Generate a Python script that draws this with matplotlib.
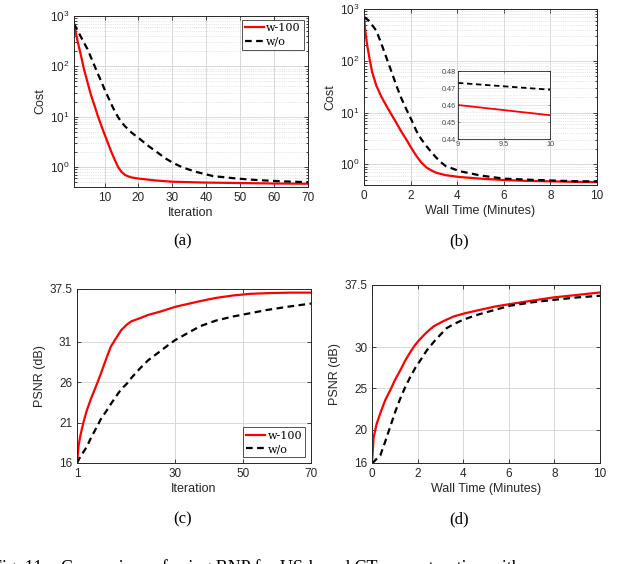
import numpy as np
import matplotlib
matplotlib.use("Agg")
import matplotlib.pyplot as plt
from matplotlib.ticker import LogLocator, NullFormatter, FixedLocator

plt.rcParams['font.family'] = ['Liberation Sans', 'DejaVu Sans']
plt.rcParams['mathtext.fontset'] = 'custom'
plt.rcParams['mathtext.rm'] = 'Liberation Sans'
plt.rcParams['mathtext.it'] = 'Liberation Sans:italic'

# ---- data (a): cost vs iteration ----
iter_a_red = [1, 2, 3, 4, 5, 6, 7, 8, 9, 10, 11, 12, 13, 14, 15, 16, 17, 18, 20, 25, 30, 40, 50, 60, 70]
cost_a_red = [700, 330, 170, 85, 48, 27, 17, 10.5, 6.8, 4.5, 3.0, 2.0, 1.4, 1.0, 0.8, 0.7, 0.65, 0.62, 0.59, 0.54, 0.51, 0.49, 0.48, 0.47, 0.465]
iter_a_blk = [1, 2, 3, 4, 5, 6, 7, 8, 9, 10, 11, 12, 13, 14, 15, 16, 18, 20, 23, 26, 28, 30, 33, 37, 42, 49, 55, 62, 70]
cost_a_blk = [700, 525, 390, 290, 219, 151, 105, 72, 51, 35, 25, 17.8, 12.9, 9.8, 7.8, 6.5, 4.8, 3.8, 2.6, 1.86, 1.48, 1.23, 0.98, 0.8, 0.66, 0.59, 0.55, 0.52, 0.5]

# ---- data (b): cost vs wall time ----
t_b_red = [0, 0.05, 0.12, 0.24, 0.35, 0.53, 0.75, 0.96, 1.2, 1.39, 1.6, 1.82, 2.05, 2.25, 2.45, 2.68, 2.9, 3.1, 3.5, 4.1, 5, 6, 7, 8, 9, 10]
cost_b_red = [700, 400, 220, 107, 60, 33, 20, 13.5, 8.8, 6.3, 4.3, 3.0, 2.0, 1.45, 1.1, 0.87, 0.76, 0.69, 0.62, 0.57, 0.53, 0.5, 0.48, 0.47, 0.46, 0.454]
t_b_blk = [0, 0.2, 0.53, 0.75, 0.96, 1.2, 1.39, 1.6, 1.82, 2.05, 2.25, 2.45, 2.68, 2.9, 3.1, 3.3, 3.5, 4.1, 5, 6, 7.4, 9, 10]
cost_b_blk = [700, 600, 380, 210, 115, 58, 33, 19, 11.5, 7, 4.4, 3.1, 2.25, 1.7, 1.35, 1.1, 0.93, 0.74, 0.61, 0.53, 0.5, 0.473, 0.469]

# ---- data (c): PSNR vs iteration ----
iter_c_red = [1, 1.5, 2, 3, 3.9, 5, 6.9, 8, 9.8, 11, 12.8, 14, 15.7, 17, 19.6, 22, 25.5, 30, 37.3, 42, 47, 52, 58, 64, 70]
psnr_c_red = [16, 18.2, 19.4, 21.2, 22.5, 23.8, 25.8, 27.0, 29.1, 30.4, 31.6, 32.4, 33.1, 33.5, 33.9, 34.3, 34.7, 35.3, 36.0, 36.4, 36.7, 36.9, 37.0, 37.05, 37.05]
iter_c_blk = [1, 2, 3.9, 5, 6.9, 8, 9.8, 11, 12.8, 14, 15.7, 17, 19.6, 22, 25.5, 28, 30, 33, 37.3, 42, 47, 52, 56.9, 63, 70]
psnr_c_blk = [16, 16.8, 18.0, 19.0, 20.5, 21.4, 22.5, 23.3, 24.4, 25.1, 25.8, 26.5, 27.7, 28.7, 29.8, 30.6, 31.2, 31.9, 32.9, 33.6, 34.1, 34.5, 34.9, 35.3, 35.7]

# ---- data (d): PSNR vs wall time ----
t_d_red = [0, 0.07, 0.2, 0.36, 0.58, 0.8, 1.02, 1.24, 1.46, 1.68, 1.9, 2.12, 2.4, 2.7, 3.1, 3.58, 4.1, 4.74, 5.4, 6.06, 7, 7.96, 9, 10]
psnr_d_red = [16, 19.1, 20.7, 22.0, 23.6, 24.8, 26.1, 27.2, 28.4, 29.4, 30.3, 31.0, 31.8, 32.5, 33.1, 33.7, 34.1, 34.5, 34.9, 35.2, 35.6, 36.0, 36.3, 36.6]
t_d_blk = [0, 0.1, 0.2, 0.36, 0.58, 0.8, 1.02, 1.24, 1.46, 1.68, 1.9, 2.12, 2.4, 2.7, 3.0, 3.28, 3.6, 4.0, 4.5, 5.0, 6.06, 7, 7.96, 9, 10]
psnr_d_blk = [16, 16.2, 16.5, 16.9, 18.6, 20.4, 22.2, 23.8, 25.2, 26.4, 27.5, 28.4, 29.6, 30.6, 31.5, 32.3, 32.8, 33.3, 33.8, 34.2, 35.0, 35.4, 35.7, 36.0, 36.2]

# ---- inset (b) ----
t_in = [9, 10]
in_red = [0.460, 0.454]
in_blk = [0.473, 0.469]

labels = ['w-100', 'w/o']

RED = '#ff0000'
GRID = '#d9d9d9'
TICK_FS = 8.5
LAB_FS = 9
LEG_FS = 8

fig = plt.figure(figsize=(6.4, 5.64), dpi=100)


def style(ax):
    ax.tick_params(direction='in', which='both', top=True, right=True,
                   labelsize=TICK_FS, colors='#262626', length=3, width=0.6)
    ax.tick_params(which='minor', length=1.8)
    for s in ax.spines.values():
        s.set_linewidth(0.7)
        s.set_color('#262626')
    ax.set_axisbelow(True)


def log_axis(ax):
    ax.set_yscale('log')
    ax.set_ylim(0.4, 1000)
    ax.yaxis.set_major_locator(FixedLocator([1, 10, 100, 1000]))
    ax.set_yticklabels([r'$10^0$', r'$10^1$', r'$10^2$', r'$10^3$'])
    ax.yaxis.set_minor_locator(LogLocator(base=10, subs=np.arange(2, 10), numticks=20))
    ax.yaxis.set_minor_formatter(NullFormatter())
    ax.grid(True, which='major', color=GRID, lw=0.7, ls='-')
    ax.grid(True, which='minor', axis='y', color='#cfcfcf', lw=0.5, ls=':')


serif = {'family': 'DejaVu Serif', 'size': LEG_FS}
leg_kw = dict(prop=serif, frameon=True, fancybox=False, edgecolor='#262626',
              borderpad=0.3, handlelength=1.7, handletextpad=0.2, labelspacing=0.3)

# (a)
axa = fig.add_axes([0.1156, 0.6684, 0.3656, 0.3032])
axa.plot(iter_a_red, cost_a_red, color=RED, lw=1.6, label=labels[0])
axa.plot(iter_a_blk, cost_a_blk, color='black', lw=1.6, ls=(0, (3, 2)), label=labels[1])
log_axis(axa)
axa.set_xlim(1, 70)
axa.set_xticks([10, 20, 30, 40, 50, 60, 70])
axa.set_xlabel('Iteration', fontsize=LAB_FS, color='#262626', labelpad=2)
axa.set_ylabel('Cost', fontsize=LAB_FS, color='#262626', labelpad=2)
style(axa)
lg = axa.legend(loc='upper right', borderaxespad=0.35, **leg_kw)
lg.get_frame().set_linewidth(0.7)

# (b)
axb = fig.add_axes([0.5688, 0.672, 0.364, 0.312])
axb.plot(t_b_red, cost_b_red, color=RED, lw=1.6)
axb.plot(t_b_blk, cost_b_blk, color='black', lw=1.6, ls=(0, (3, 2)))
log_axis(axb)
axb.set_xlim(0, 10)
axb.set_xticks([0, 2, 4, 6, 8, 10])
axb.set_xlabel('Wall Time (Minutes)', fontsize=LAB_FS, color='#262626', labelpad=2)
axb.set_ylabel('Cost', fontsize=LAB_FS, color='#262626', labelpad=2)
style(axb)

# inset
axi = fig.add_axes([0.7156, 0.7535, 0.1438, 0.1206])
axi.plot(t_in, in_red, color=RED, lw=1.3)
axi.plot(t_in, in_blk, color='black', lw=1.3, ls=(0, (3, 2)))
axi.set_xlim(9, 10)
axi.set_ylim(0.44, 0.48)
axi.set_xticks([9, 9.5, 10])
axi.set_xticklabels(['9', '9.5', '10'])
axi.set_yticks([0.44, 0.45, 0.46, 0.47, 0.48])
axi.set_yticks(np.arange(0.442, 0.48, 0.002), minor=True)
axi.grid(True, which='major', color=GRID, lw=0.5)
axi.grid(True, which='minor', axis='y', color='#d0d0d0', lw=0.4, ls=':')
axi.tick_params(direction='in', which='both', top=True, right=True, labelsize=5.2,
                length=1.5, width=0.4, pad=1.5, colors='#444444')
axi.tick_params(which='minor', length=0)
for s in axi.spines.values():
    s.set_linewidth(0.6)
    s.set_color('#262626')
axi.set_axisbelow(True)

# (c)
axc = fig.add_axes([0.1203, 0.1791, 0.3656, 0.3085])
axc.plot(iter_c_red, psnr_c_red, color=RED, lw=1.6, label=labels[0])
axc.plot(iter_c_blk, psnr_c_blk, color='black', lw=1.6, ls=(0, (3, 2)), label=labels[1])
axc.set_xlim(1, 70)
axc.set_ylim(16, 37.5)
axc.set_xticks([1, 30, 50, 70])
axc.set_yticks([16, 21, 26, 31, 37.5])
axc.set_yticklabels(['16', '21', '26', '31', '37.5'])
axc.grid(True, color=GRID, lw=0.7)
axc.set_xlabel('Iteration', fontsize=LAB_FS, color='#262626', labelpad=2)
axc.set_ylabel('PSNR (dB)', fontsize=LAB_FS, color='#262626', labelpad=2)
style(axc)
lg = axc.legend(loc='lower right', borderaxespad=0.5, **leg_kw)
lg.get_frame().set_linewidth(0.7)

# (d)
axd = fig.add_axes([0.5813, 0.1791, 0.3563, 0.3156])
axd.plot(t_d_red, psnr_d_red, color=RED, lw=1.6)
axd.plot(t_d_blk, psnr_d_blk, color='black', lw=1.6, ls=(0, (3, 2)))
axd.set_xlim(0, 10)
axd.set_ylim(16, 37.5)
axd.set_xticks([0, 2, 4, 6, 8, 10])
axd.set_yticks([16, 20, 25, 30, 37.5])
axd.set_yticklabels(['16', '20', '25', '30', '37.5'])
axd.grid(True, color=GRID, lw=0.7)
axd.set_xlabel('Wall Time (Minutes)', fontsize=LAB_FS, color='#262626', labelpad=2)
axd.set_ylabel('PSNR (dB)', fontsize=LAB_FS, color='#262626', labelpad=2)
style(axd)

# panel labels
pl = dict(family='Liberation Serif', fontsize=12, ha='center', va='center')
fig.text(183 / 640, 1 - 241 / 564, '(a)', **pl)
fig.text(459 / 640, 1 - 241 / 564, '(b)', **pl)
fig.text(183 / 640, 1 - 519 / 564, '(c)', **pl)
fig.text(459 / 640, 1 - 519 / 564, '(d)', **pl)

# caption (partly cut off at the bottom edge, as in the reference)
fig.text(-8 / 640, 1 - 568 / 564, 'Fig. 11:   Comparison of using BNP for US-based CT reconstruction with',
         family='Liberation Serif', fontsize=13, ha='left', va='center')

fig.savefig('out.png', dpi=100)
